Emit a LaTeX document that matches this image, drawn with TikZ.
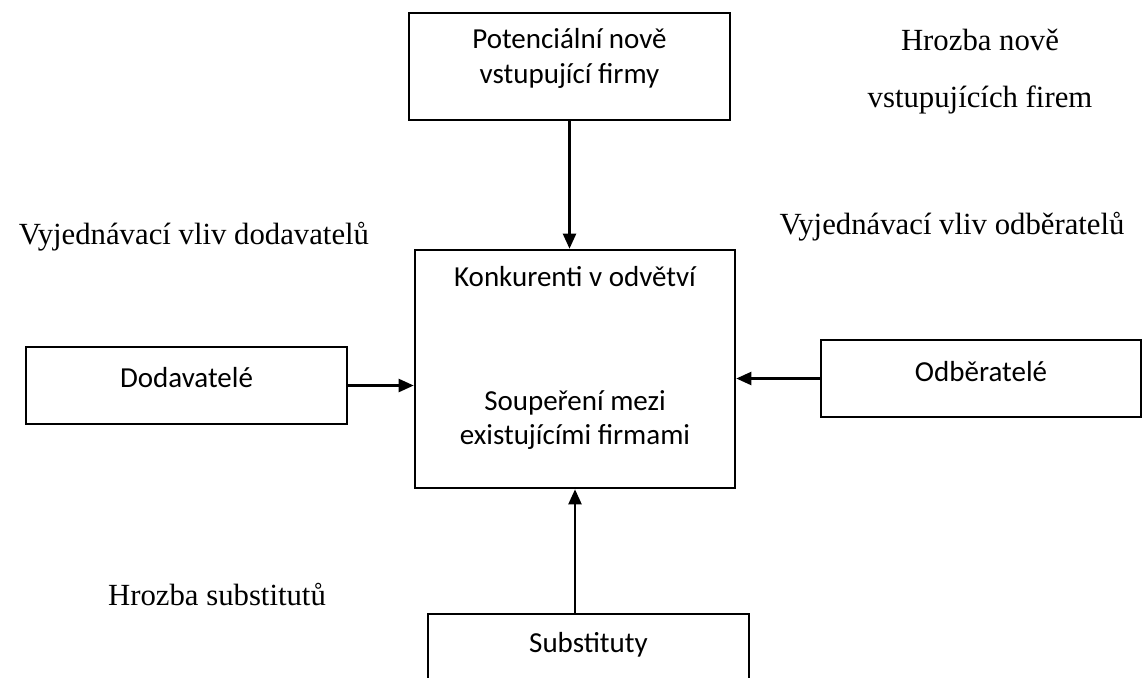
\documentclass[tikz,border=0pt]{standalone}
\usepackage{fontspec}
\setmainfont{Liberation Serif}
\newfontfamily\boxfont{Carlito}
\usetikzlibrary{shapes,arrows.meta}

\tikzset{
  box/.style = {rectangle, draw, line width = 1.5pt,
                minimum width = 6.42cm, minimum height = 1.54cm},
  boxtext/.style = {font = \boxfont\fontsize{16.5}{19.5}\selectfont, align = center},
  force/.style = {font = \fontsize{17.5}{32.4}\selectfont, align = center},
  pointer/.style = {line width = 1.3pt, -{Triangle[length = 0.3cm, width = 0.26cm]}}
}

\begin{document}
\begin{tikzpicture}
  \clip (0,0) rectangle (22.96,-13.54);

      \node[box,
            minimum height = 2.14cm] (NE) at (11.39,-1.33) {};
      \node[boxtext] (NEtext) at (11.39,-1.17) {Potenciální nově\\vstupující firmy};

      \node[box,
            minimum width = 6.4cm,
            minimum height = 4.76cm] (K) at (11.5,-7.38) {};
      \node[boxtext] (Ktext) at (11.5,-5.54) {Konkurenti v odvětví};
      \node[boxtext] (Rtext) at (11.5,-8.4) {Soupeření mezi\\existujícími firmami};

      \node[box] (D) at (3.73,-7.71) {};
      \node[boxtext] (Dtext) at (3.73,-7.56) {Dodavatelé};

      \node[box,
            minimum width = 6.4cm] (O) at (19.62,-7.57) {};
      \node[boxtext] (Otext) at (19.62,-7.44) {Odběratelé};

      \node[box] (S) at (11.77,-13.05) {};
      \node[boxtext] (Stext) at (11.77,-12.9) {Substituty};

      \node[force] (NEforce) at (19.6,-1.43) {Hrozba nově\\vstupujících firem};
      \node[force] (Dforce) at (3.88,-4.74) {Vyjednávací vliv dodavatelů};
      \node[force] (Oforce) at (19.04,-4.54) {Vyjednávací vliv odběratelů};
      \node[force] (Sforce) at (4.34,-11.9) {Hrozba substitutů};

      \draw[pointer] (NE.south) -- (NE.south |- K.north);
      \draw[pointer] (D.east) -- (D.east -| K.west);
      \draw[pointer] (O.west) -- (O.west -| K.east);
      \draw[pointer] (S.north -| K.south) -- (K.south);

\end{tikzpicture}
\end{document}
